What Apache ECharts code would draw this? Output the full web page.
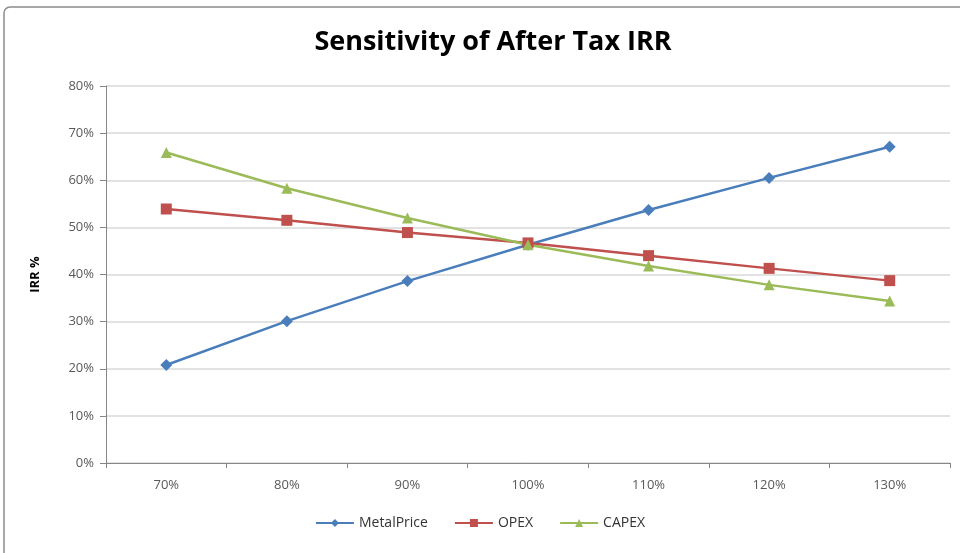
<!DOCTYPE html>
<html><head><meta charset="utf-8">
<script src="https://cdn.jsdelivr.net/npm/echarts@6/dist/echarts.min.js"></script>
<style>html,body{margin:0;padding:0;background:#fff}#c{width:960px;height:553px}</style>
</head><body><div id="c"></div>
<script>
var categories = ['70%','80%','90%','100%','110%','120%','130%'];
var metalPrice = [20.8, 30.1, 38.6, 46.3, 53.7, 60.5, 67.1];
var opex = [53.9, 51.5, 48.9, 46.7, 44.0, 41.3, 38.7];
var capex = [65.9, 58.3, 52.0, 46.3, 41.8, 37.8, 34.4];
var yTicks = [0, 10, 20, 30, 40, 50, 60, 70, 80];

var chart = echarts.init(document.getElementById('c'));
var font = 'Open Sans, Liberation Sans, sans-serif';
function ser(name, data, color, symbol, size) {
  return {
    name: name, type: 'line', data: data, symbol: symbol, symbolSize: size,
    lineStyle: {color: color, width: 2.5}, itemStyle: {color: color},
    emphasis: {disabled: true}
  };
}
chart.setOption({
  animation: false,
  graphic: [{type: 'rect', shape: {x: 4, y: 7, width: 1000, height: 580, r: 6},
    style: {fill: 'none', stroke: '#8c8c8c', lineWidth: 1.5}, silent: true}],
  title: {text: 'Sensitivity of After Tax IRR', left: 488, textAlign: 'center', top: 24,
    textStyle: {fontFamily: font, fontWeight: 'bold', fontSize: 27, color: '#000'}},
  grid: {left: 106, right: 10, top: 86, bottom: 90},
  legend: {bottom: 18, left: 'center', itemWidth: 38, itemHeight: 10, itemGap: 26,
    textStyle: {fontFamily: font, fontSize: 14, color: '#333'},
    data: ['MetalPrice', 'OPEX', 'CAPEX']},
  xAxis: {type: 'category', data: categories, boundaryGap: true,
    axisLine: {lineStyle: {color: '#868686', width: 1}},
    axisTick: {show: true, length: 5, lineStyle: {color: '#868686'}},
    axisLabel: {fontFamily: font, fontSize: 13, color: '#595959', margin: 16}},
  yAxis: {type: 'value', min: 0, max: 80, interval: 10,
    name: 'IRR %', nameLocation: 'middle', nameGap: 64, nameRotate: 90,
    nameTextStyle: {fontFamily: font, fontWeight: 'bold', fontSize: 13, color: '#000'},
    axisLine: {show: true, lineStyle: {color: '#868686', width: 1}},
    axisTick: {show: true, length: 6, lineStyle: {color: '#868686'}},
    splitLine: {lineStyle: {color: '#d9d9d9', width: 1.5}},
    axisLabel: {fontFamily: font, fontSize: 13, color: '#595959', margin: 12,
      formatter: function (v) { return yTicks.indexOf(v) >= 0 ? v + '%' : ''; }}},
  series: [
    ser('MetalPrice', metalPrice, '#4a7ebb', 'diamond', 12),
    ser('OPEX', opex, '#c0504d', 'rect', 11),
    ser('CAPEX', capex, '#9bbb59', 'triangle', 11)
  ]
});
</script></body></html>
